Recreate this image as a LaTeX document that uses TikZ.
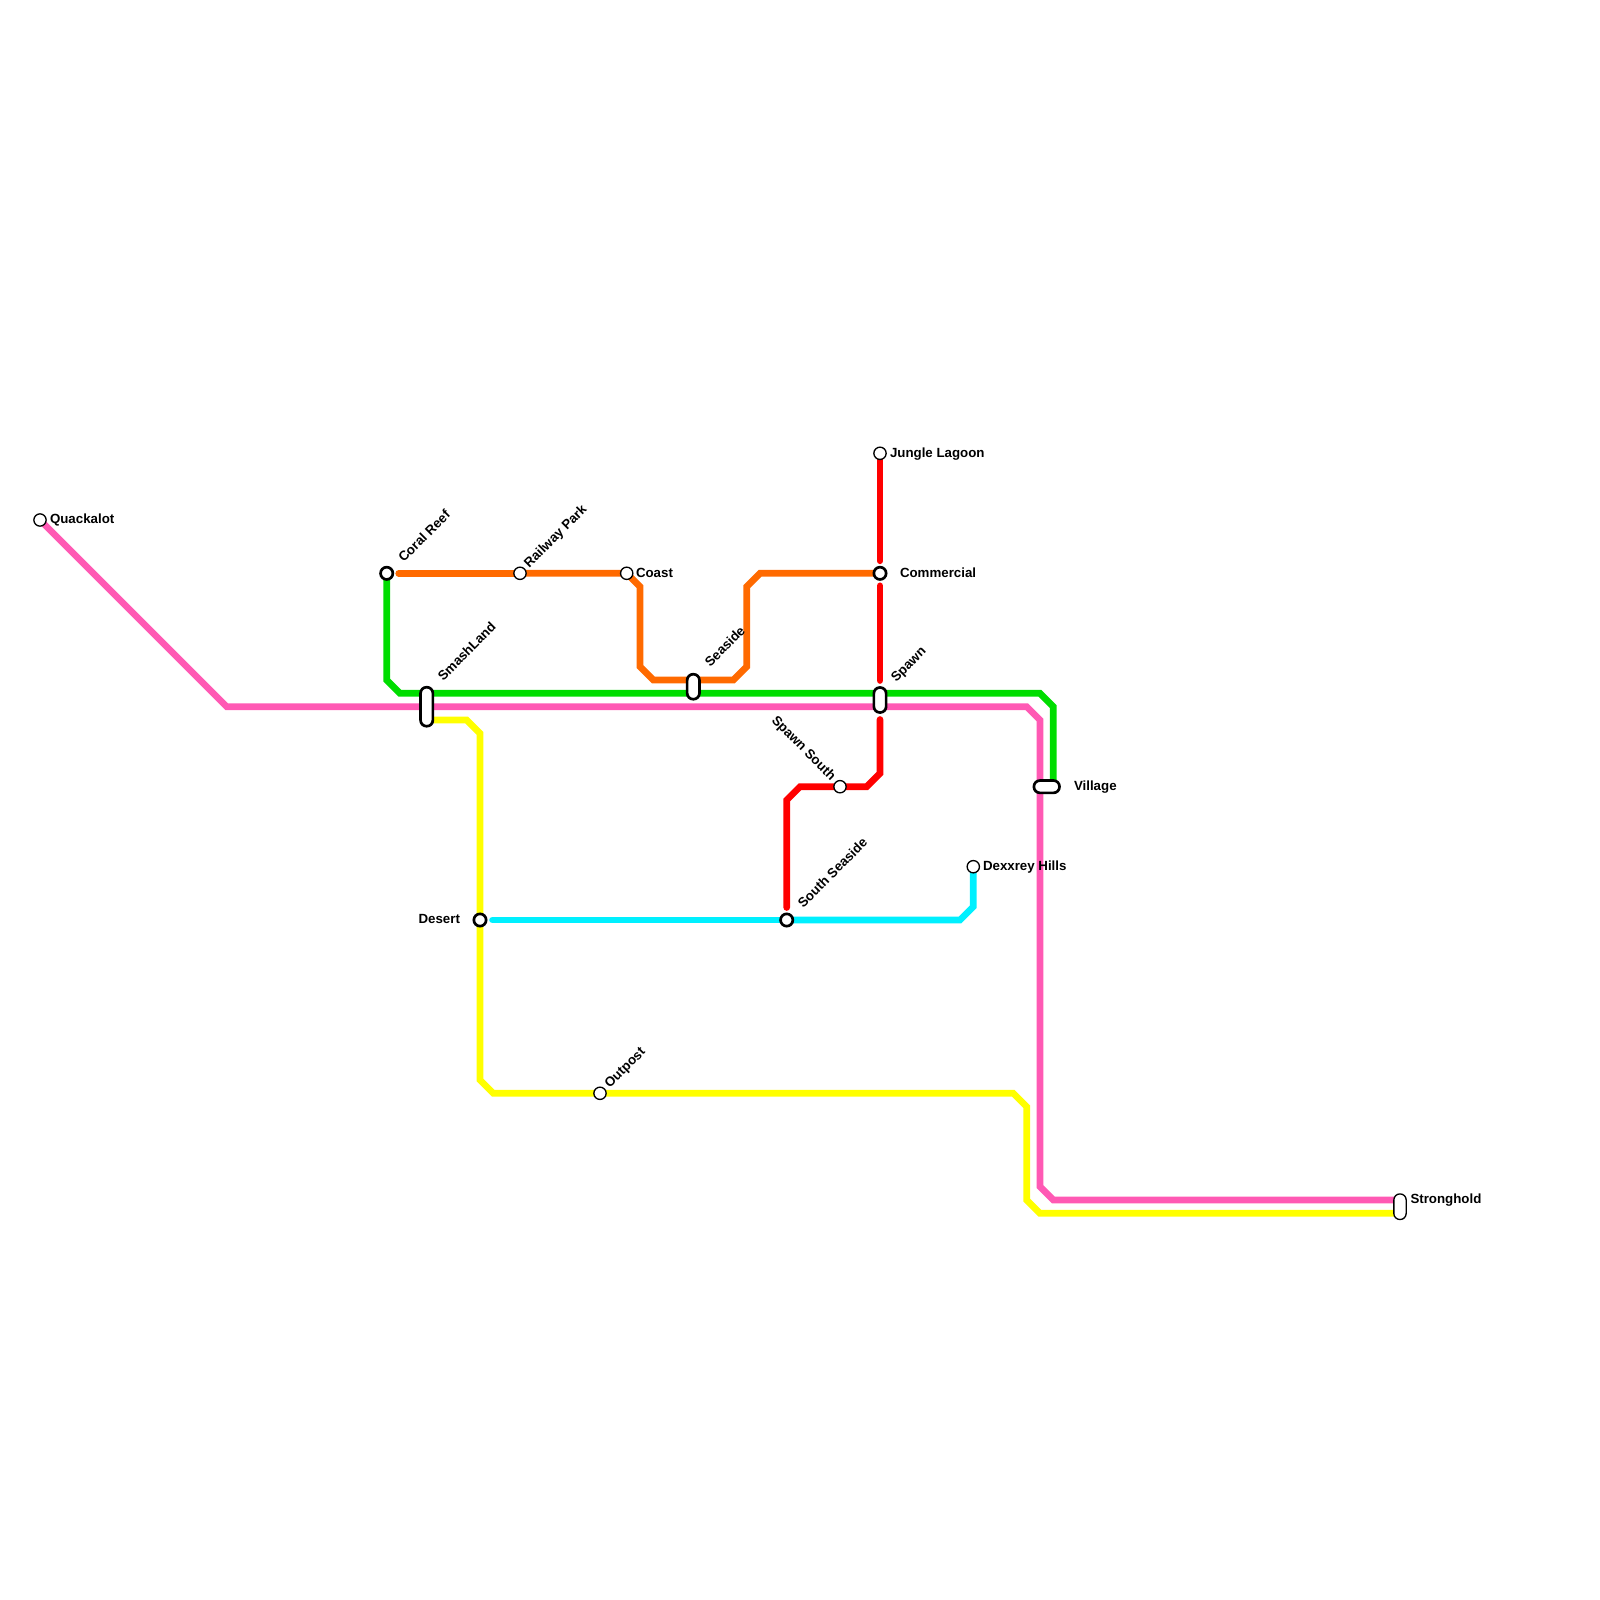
\documentclass[tikz,border=0pt]{standalone}
\usepackage{fontspec}
\setmainfont{Liberation Sans}
\usetikzlibrary{backgrounds}
\definecolor{lnpink}{HTML}{FF59B4}
\definecolor{lngreen}{HTML}{00DD00}
\definecolor{lnorange}{HTML}{FF6A00}
\definecolor{lnyellow}{HTML}{FFFF00}
\definecolor{lncyan}{HTML}{00F0FF}
\definecolor{lnred}{HTML}{FF0000}
\tikzset{
  x=1pt,y=-1pt,
  lineroute/.style={line width=6.67pt,line cap=round,line join=miter},
  gapstart/.style={shorten <=12.5pt},
  gapend/.style={shorten >=12.5pt},
  stnplain/.style={circle,draw=black,fill=white,line width=1.33pt,minimum size=12.3pt,inner sep=0pt,outer sep=0pt},
  stnbold/.style={circle,draw=black,fill=white,line width=2.67pt,minimum size=12.3pt,inner sep=0pt,outer sep=0pt},
  pillthin/.style={rectangle,rounded corners=6pt,draw=black,fill=white,line width=1.33pt,inner sep=0pt,outer sep=0pt},
  pillbold/.style={rectangle,rounded corners=6pt,draw=black,fill=white,line width=2.67pt,inner sep=0pt,outer sep=0pt},
  lbl/.style={font=\bfseries\fontsize{13.3}{13.3}\selectfont,text=black,inner sep=0pt,outer sep=0pt},
}
\begin{document}
\begin{tikzpicture}
\useasboundingbox (0,0) rectangle (1600,1600);
% stations
\node[stnplain] (quack) at (40,520) {};
\node[stnbold] (coral) at (386.7,573.3) {};
\node[stnplain] (rail) at (520,573.3) {};
\node[stnplain] (coast) at (626.7,573.3) {};
\node[stnplain] (jungle) at (880,453.3) {};
\node[stnbold] (comm) at (880,573.3) {};
\node[pillbold,minimum width=12.3pt,minimum height=39pt] (smash) at (426.7,706.7) {};
\node[pillbold,minimum width=12.3pt,minimum height=25pt] (seaside) at (693.3,686.7) {};
\node[pillbold,minimum width=12.3pt,minimum height=25pt] (spawn) at (880,700) {};
\node[pillbold,minimum width=25.6pt,minimum height=12.3pt] (village) at (1046.7,786.7) {};
\node[stnplain] (spawns) at (840,786.7) {};
\node[stnplain] (dex) at (973.3,866.7) {};
\node[stnbold] (desert) at (480,920) {};
\node[stnbold] (souths) at (786.7,920) {};
\node[stnplain] (outpost) at (600,1093.3) {};
\node[pillthin,minimum width=12.3pt,minimum height=25.6pt] (strong) at (1400,1206.7) {};
% labels
\node[lbl,anchor=west] (tquack) at (50,520) {Quackalot};
\node[lbl,anchor=west] (tjungle) at (890,454.5) {Jungle Lagoon};
\node[lbl,anchor=west] (tcomm) at (900,572.5) {Commercial};
\node[lbl,anchor=west] (tcoast) at (636,572.5) {Coast};
\node[lbl,anchor=west] (tdex) at (983,867) {Dexxrey Hills};
\node[lbl,anchor=west] (tstrong) at (1410.5,1200) {Stronghold};
\node[lbl,anchor=west] (tvillage) at (1074,787) {Village};
\node[lbl,anchor=east] (tdesert) at (460,919) {Desert};
\node[lbl,anchor=west,rotate=45] (tcoral) at (400.5,559.5) {Coral Reef};
\node[lbl,anchor=west,rotate=45] (trail) at (527,566) {Railway Park};
\node[lbl,anchor=west,rotate=45] (tsmash) at (440,678) {SmashLand};
\node[lbl,anchor=west,rotate=45] (tseaside) at (707,664) {Seaside};
\node[lbl,anchor=west,rotate=45] (tspawn) at (894,680) {Spawn};
\node[lbl,anchor=west,rotate=45] (tsouths) at (800,905) {South Seaside};
\node[lbl,anchor=west,rotate=45] (toutpost) at (607.5,1086.5) {Outpost};
\node[lbl,anchor=east,rotate=-45] (tspawns) at (833,778.5) {Spawn South};
% lines
\begin{scope}[on background layer]
\fill[white] (0,0) rectangle (1600,1600);
\coordinate (greenend) at (1053.3,786.7);
\draw[lineroute,lngreen] (coral.center) -- (386.7,680) -- (400,693.3) -- (smash.center |- 0,693.3) -- (seaside.center |- 0,693.3) -- (spawn.center |- 0,693.3) -- (1040,693.3) -- (1053.3,706.7) -- (greenend);
\draw[lineroute,lnpink] (quack.center) -- (226.7,706.7) -- (smash.center) -- (spawn.center |- 0,706.7) -- (1026.7,706.7) -- (1040,720) -- (1040,1186.7) -- (1053.3,1200) -- (strong.center |- 0,1200);
\draw[lineroute,lnorange,shorten <=12pt] (coral.center) -- (rail.center);
\draw[lineroute,lnorange] (rail.center) -- (coast.center) -- (640,586.7) -- (640,666.7) -- (653.3,680) -- (seaside.center |- 0,680) -- (733.3,680) -- (746.7,666.7) -- (746.7,586.7) -- (760,573.3) -- (comm.center);
\draw[lineroute,lnyellow] (smash.center |- 0,720) -- (466.7,720) -- (480,733.3) -- (desert.center) -- (480,1080) -- (493.3,1093.3) -- (outpost.center) -- (1013.3,1093.3) -- (1026.7,1106.7) -- (1026.7,1200) -- (1040,1213.3) -- (strong.center |- 0,1213.3);
\draw[lineroute,lncyan,gapstart] (desert.center) -- (souths.center);
\draw[lineroute,lncyan] (souths.center) -- (960,920) -- (973.3,906.7) -- (dex.center);
\draw[lineroute,lnred,gapend] (jungle.center) -- (comm.center);
\draw[lineroute,lnred,gapstart,shorten >=19.5pt] (comm.center) -- (spawn.center);
\draw[lineroute,lnred,shorten <=19.5pt] (spawn.center) -- (880,773.3) -- (866.7,786.7) -- (spawns.center);
\draw[lineroute,lnred,gapend] (spawns.center) -- (800,786.7) -- (786.7,800) -- (786.7,920);
\end{scope}
\end{tikzpicture}
\end{document}
